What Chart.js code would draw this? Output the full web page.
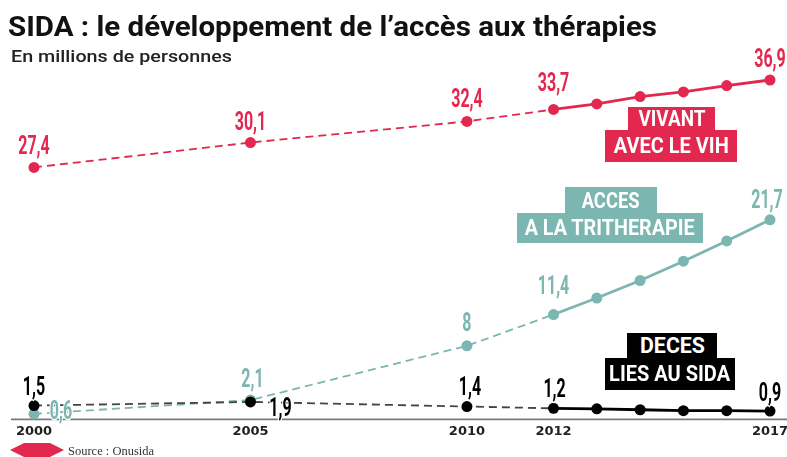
<!DOCTYPE html>
<html lang="fr">
<head>
<meta charset="utf-8">
<script src="https://cdn.jsdelivr.net/npm/chart.js@4.4.1/dist/chart.umd.min.js"></script>
<style>
  body { margin: 0; background: #fff; }
  #page { position: relative; width: 787px; height: 457px; overflow: hidden; font-family: Roboto, sans-serif; }
  #graph { position: absolute; left: 0; top: 0; }
  .fit { position: absolute; white-space: nowrap; line-height: 1; display: inline-block; transform-origin: left top; }
  #titre { left: 8px; top: 14px; font-size: 27px; font-weight: 700; color: #111; }
  #soustitre { left: 11px; top: 48px; font-size: 17px; font-weight: 500; color: #222; }
  .boite { position: absolute; display: flex; align-items: center; justify-content: center; color: #fff; }
  .boite span { display: inline-block; white-space: nowrap; font-size: 22px; font-weight: 700; line-height: 1; transform-origin: center center; }
  .rouge { background: #e2284e; }
  .vert { background: #7bb6b1; }
  .noir { background: #000; }
  #losange { position: absolute; left: 10px; top: 443px; width: 54px; height: 14px; background: #e2284e;
    clip-path: polygon(0 50%, 26% 0, 74% 0, 100% 50%, 74% 100%, 26% 100%); }
  #source { position: absolute; left: 68px; top: 444px; font-family: "Liberation Serif", serif; font-size: 12.5px; color: #333; }
</style>
</head>
<body>
<div id="page">
  <canvas id="graph" width="787" height="457"></canvas>
  <div id="titre" class="fit" data-w="649">SIDA : le développement de l’accès aux thérapies</div>
  <div id="soustitre" class="fit" data-w="221">En millions de personnes</div>

  <div class="boite rouge" style="left:628px;top:107px;width:87px;height:24px"><span data-w="67">VIVANT</span></div>
  <div class="boite rouge" style="left:605px;top:130px;width:132px;height:32px"><span data-w="115">AVEC LE VIH</span></div>

  <div class="boite vert" style="left:565px;top:187px;width:92px;height:27px"><span data-w="58">ACCES</span></div>
  <div class="boite vert" style="left:517px;top:213px;width:186px;height:30px"><span data-w="170">A LA TRITHERAPIE</span></div>

  <div class="boite noir" style="left:627px;top:333px;width:90px;height:26px"><span data-w="65">DECES</span></div>
  <div class="boite noir" style="left:605px;top:358px;width:130px;height:32px"><span data-w="121">LIES AU SIDA</span></div>

  <div id="losange"></div>
  <div id="source">Source : Onusida</div>
</div>
<script>
// données (millions de personnes)
const annees = [2000, 2005, 2010, 2012, 2013, 2014, 2015, 2016, 2017];
const vivants = [27.4, 30.1, 32.4, 33.7, 34.3, 35.1, 35.6, 36.3, 36.9];
const tritherapie = [0.6, 2.1, 8, 11.4, 13.2, 15.1, 17.2, 19.4, 21.7];
const deces = [1.5, 1.9, 1.4, 1.2, 1.15, 1.05, 0.95, 0.95, 0.9];
const anneesAxe = [2000, 2005, 2010, 2012, 2017];

// décalage des étiquettes [dx, dy] par rapport au point, null = pas d'étiquette
const etiqVivants = [[0, -13], [0, -13], [0, -14], [0, -18], null, null, null, null, [0, -13]];
const etiqTrith = [[27, 5], [2, -13], [0, -15], [0, -21], null, null, null, null, [-3, -12]];
const etiqDeces = [[0, -11], [30, 14], [3, -12], [1, -11], null, null, null, null, [0, -10]];

const ROUGE = '#e2284e';
const VERT = '#7bb6b1';
const NOIR = '#000';

// ajuste la largeur des textes condensés
document.querySelectorAll('[data-w]').forEach(el => {
  const w = el.getBoundingClientRect().width;
  el.style.transform = 'scaleX(' + (el.dataset.w / w) + ')';
});

function points(vals) {
  return vals.map((v, i) => ({ x: annees[i], y: v }));
}

function serie(vals, couleur, pointille, etiq, ordre) {
  return {
    data: points(vals),
    borderColor: couleur,
    backgroundColor: couleur,
    pointBackgroundColor: couleur,
    pointBorderWidth: 0,
    pointRadius: 5.5,
    borderWidth: 2.8,
    tension: 0,
    clip: false,
    order: ordre,
    etiquettes: etiq,
    segment: {
      borderDash: c => c.p1.parsed.x <= 2012 ? [8, 5] : [],
      borderWidth: c => c.p1.parsed.x <= 2012 ? 1.8 : 2.8,
      borderColor: c => c.p1.parsed.x <= 2012 ? pointille : couleur
    }
  };
}

// ligne de l'axe horizontal
const axe = {
  id: 'axe',
  beforeDatasetsDraw(chart) {
    const ctx = chart.ctx;
    const y = chart.scales.y.getPixelForValue(0);
    ctx.save();
    ctx.strokeStyle = '#7a7a7a';
    ctx.lineWidth = 1.8;
    ctx.beginPath();
    ctx.moveTo(11, y);
    ctx.lineTo(chart.width, y);
    ctx.stroke();
    ctx.restore();
  }
};

// valeurs au-dessus des points
const etiquettes = {
  id: 'etiquettes',
  afterDatasetsDraw(chart) {
    const ctx = chart.ctx;
    chart.data.datasets.forEach((ds, i) => {
      const meta = chart.getDatasetMeta(i);
      ds.etiquettes.forEach((off, j) => {
        if (!off) return;
        const pt = meta.data[j];
        const txt = String(ds.data[j].y).replace('.', ',');
        ctx.save();
        ctx.translate(pt.x + off[0], pt.y + off[1]);
        ctx.scale(0.64, 1);
        ctx.font = 'bold 25px Roboto';
        ctx.textAlign = 'center';
        ctx.textBaseline = 'alphabetic';
        ctx.lineWidth = 3;
        ctx.strokeStyle = '#fff';
        ctx.strokeText(txt, 0, 0);
        ctx.fillStyle = ds.borderColor;
        ctx.fillText(txt, 0, 0);
        ctx.restore();
      });
    });
  }
};

const ctx = document.getElementById('graph').getContext('2d');
const graph = new Chart(ctx, {
  type: 'line',
  data: {
    datasets: [
      serie(deces, NOIR, '#444', etiqDeces, 1),
      serie(tritherapie, VERT, VERT, etiqTrith, 2),
      serie(vivants, ROUGE, ROUGE, etiqVivants, 3)
    ]
  },
  options: {
    responsive: false,
    animation: false,
    layout: { padding: { left: 34, right: 17, top: 0, bottom: 14 } },
    plugins: {
      legend: { display: false },
      tooltip: { enabled: false }
    },
    scales: {
      x: {
        type: 'linear',
        min: 2000,
        max: 2017,
        afterBuildTicks: s => { s.ticks = anneesAxe.map(v => ({ value: v })); },
        afterFit: s => { s.paddingLeft = 0; s.paddingRight = 0; },
        grid: { display: false, drawTicks: false },
        border: { display: false },
        ticks: {
          padding: 4,
          autoSkip: false,
          maxRotation: 0,
          color: '#222',
          font: { family: 'DejaVu Sans', weight: 'bold', size: 13 },
          callback: v => String(v)
        }
      },
      y: { display: false, min: 0, max: 45 }
    }
  },
  plugins: [axe, etiquettes]
});
</script>
</body>
</html>
